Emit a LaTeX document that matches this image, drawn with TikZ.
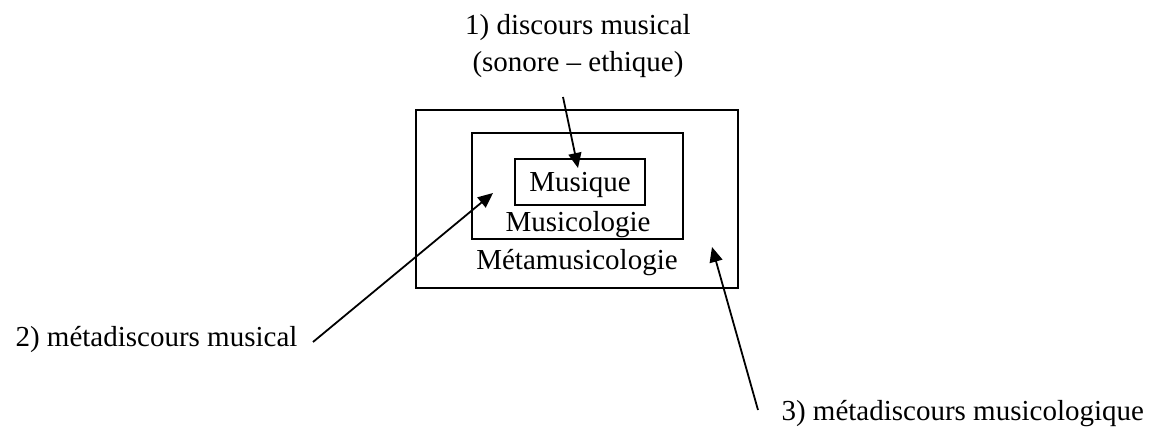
\documentclass[tikz,border=0pt]{standalone}
\usepackage{fontspec}
\setmainfont{Liberation Serif}
\usetikzlibrary{arrows.meta,positioning}

\begin{document}
\begin{tikzpicture}[x=1pt, y=-1pt, font=\fontsize{29}{37}\selectfont,
    cadre/.style={draw, line width=2pt, inner sep=0pt},
    fleche/.style={-{Triangle[length=15pt,width=13pt]}, line width=1.8pt}]
  \useasboundingbox (0,0) rectangle (1149,430);
  % boites emboitees
  \node[cadre, minimum width=322pt, minimum height=178pt] (meta) at (577,199) {};
  \node[cadre, minimum width=211pt, minimum height=106pt] (musicologie) at (577.5,186) {};
  \node[cadre, minimum width=130pt, minimum height=46pt] (musique) at (580,182) {};
  \node[anchor=base] (lbl-musique) at (580,192) {Musique};
  \node[anchor=base] (lbl-musicologie) at (578,232) {Musicologie};
  \node[anchor=base] (lbl-meta) at (577,270) {Métamusicologie};
  % les trois niveaux de discours
  \node[anchor=base] (discours) at (578,35) {1) discours musical};
  \node[anchor=base] (sonore) at (578,72) {(sonore -- ethique)};
  \node[anchor=base west] (metadisc) at (12,347) {2) métadiscours musical};
  \node[anchor=base west] (metamusico) at (778,420) {3) métadiscours musicologique};
  \coordinate (d1) at (563,97);
  \coordinate (d2) at (313,342);
  \coordinate (d3) at (758,410);
  \coordinate (c1) at (578,168);
  \coordinate (c2) at (493,193);
  \coordinate (c3) at (712,247);
  \draw[fleche] (d1) -- (c1);
  \draw[fleche] (d2) -- (c2);
  \draw[fleche] (d3) -- (c3);
\end{tikzpicture}
\end{document}
